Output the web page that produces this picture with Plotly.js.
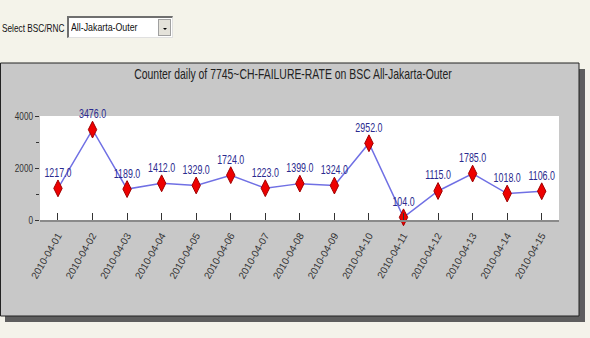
<!DOCTYPE html>
<html>
<head>
<meta charset="utf-8">
<script src="https://cdn.plot.ly/plotly-3.0.1.min.js"></script>
<style>
  html, body { margin: 0; padding: 0; background: #f4f3ea; }
  #wrap { position: relative; width: 590px; height: 338px; }
  #chart { position: absolute; left: 0; top: 0; width: 590px; height: 338px; }
  #picker { position: absolute; left: 0; top: 0; width: 200px; height: 42px; z-index: 2;
            font-family: "Liberation Sans", sans-serif; color: #111; }
  #picker .lbl { position: absolute; left: 2px; top: 22px; font-size: 11px; line-height: 13px;
                 transform: scaleX(0.75); transform-origin: 0 0; white-space: nowrap; }
  #picker .box { position: absolute; left: 67px; top: 16px; width: 103px; height: 19px; background: #fff;
                 border-top: 2px solid #6f6f6f; border-left: 2px solid #6f6f6f; border-bottom: 1px solid #e0e0e0; border-right: 1px solid #e0e0e0; }
  #picker .val { position: absolute; left: 2px; top: 3px; font-size: 11px; line-height: 13px;
                 transform: scaleX(0.8); transform-origin: 0 0; white-space: nowrap; }
  #picker .btn { position: absolute; right: 1px; top: 1px; width: 13px; height: 17px; background: #e4e2da;
                 border: 1px solid #a0a0a0; box-sizing: border-box; }
  #picker .btn:after { content: ""; position: absolute; left: 4px; top: 8px; border-left: 2px solid transparent;
                 border-right: 2px solid transparent; border-top: 2px solid #000; }
</style>
</head>
<body>
<div id="wrap">
  <div id="chart"></div>
  <div id="picker"><span class="lbl">Select BSC/RNC</span><div class="box"><span class="val">All-Jakarta-Outer</span><div class="btn"></div></div></div>
</div>
<script>
// Daily counter values for 7745~CH-FAILURE-RATE
const days = ["2010-04-01", "2010-04-02", "2010-04-03", "2010-04-04", "2010-04-05",
              "2010-04-06", "2010-04-07", "2010-04-08", "2010-04-09", "2010-04-10",
              "2010-04-11", "2010-04-12", "2010-04-13", "2010-04-14", "2010-04-15"];
const failures = [1217, 3476, 1189, 1412, 1329, 1724, 1223, 1399, 1324, 2952, 104, 1115, 1785, 1018, 1106];
const yTicks = [0, 2000, 4000];

const W = 590, H = 338;
const M = { l: 40, r: 31, t: 116, b: 118 };
const PW = W - M.l - M.r, PH = H - M.t - M.b;
// pixel position -> paper fraction (paper spans the plot area)
const px = v => (v - M.l) / PW;
const py = v => (H - M.b - v) / PH;
const FONT = '"Liberation Sans", Arial, sans-serif';

const trace = {
  type: 'scatter',
  mode: 'lines+markers+text',
  x: days,
  y: failures,
  text: failures.map(v => v.toFixed(1)),
  textposition: 'top center',
  textfont: { family: FONT, size: 12, color: '#2a2a8e' },
  cliponaxis: false,
  line: { color: '#7070e4', width: 1.5 },
  marker: { symbol: 'diamond-tall', size: 12, color: '#ee0000', line: { color: '#a00000', width: 1 } },
  hoverinfo: 'x+y'
};

const layout = {
  width: W, height: H,
  margin: M,
  paper_bgcolor: '#f4f3ea',
  plot_bgcolor: '#ffffff',
  showlegend: false,
  title: {
    text: 'Counter daily of 7745~CH-FAILURE-RATE on BSC All-Jakarta-Outer',
    x: 293 / W, xanchor: 'center', y: 1 - 74 / H, yanchor: 'middle',
    font: { family: FONT, size: 14, color: '#222' }
  },
  xaxis: {
    type: 'category',
    range: [-0.52, 14.5],
    showgrid: false, zeroline: false, automargin: false,
    showline: true, linecolor: '#8a8a8a', linewidth: 2,
    ticks: 'inside', ticklen: 7, tickwidth: 1, tickcolor: '#333',
    tickangle: -60, ticklabelstandoff: 4,
    tickfont: { family: FONT, size: 10, color: '#333' }
  },
  yaxis: {
    range: [0, 4000],
    tickvals: yTicks,
    ticktext: yTicks.map(String),
    showgrid: false, zeroline: false, showline: false, automargin: false,
    ticks: 'outside', ticklen: 4, tickwidth: 1, tickcolor: '#333',
    minor: { dtick: 1000, ticks: 'outside', ticklen: 3, tickcolor: '#333', showgrid: false },
    tickfont: { family: FONT, size: 10, color: '#333' }
  },
  shapes: [
    // drop shadow behind the panel
    { type: 'rect', xref: 'paper', yref: 'paper', layer: 'below',
      x0: px(5), x1: px(585), y0: py(69), y1: py(322),
      fillcolor: '#5e5e5e', line: { width: 0 } },
    // grey chart panel
    { type: 'rect', xref: 'paper', yref: 'paper', layer: 'below',
      x0: px(0.5), x1: px(579), y0: py(63), y1: py(316),
      fillcolor: '#c8c8c8', line: { color: '#222', width: 1 } },
    // white plotting area
    { type: 'rect', xref: 'paper', yref: 'paper', layer: 'below',
      x0: 0, x1: 1, y0: 0, y1: 1,
      fillcolor: '#ffffff', line: { width: 0 } }
  ]
};

// Narrow the glyphs of an svg text horizontally around its anchor point
function squeeze(el, k) {
  const x = parseFloat(el.getAttribute('x')) || 0;
  const prev = el.getAttribute('transform') || '';
  el.setAttribute('transform', `${prev} translate(${x},0) scale(${k},1) translate(${-x},0)`);
}

Plotly.newPlot('chart', [trace], layout, { displayModeBar: false, staticPlot: true }).then(gd => {
  const title = gd.querySelector('.gtitle');
  if (title) squeeze(title, 318 / title.getComputedTextLength());
  gd.querySelectorAll('.textpoint text').forEach(t => squeeze(t, 0.74));
  gd.querySelectorAll('.ytick text').forEach(t => squeeze(t, 0.82));
});
</script>
</body>
</html>
